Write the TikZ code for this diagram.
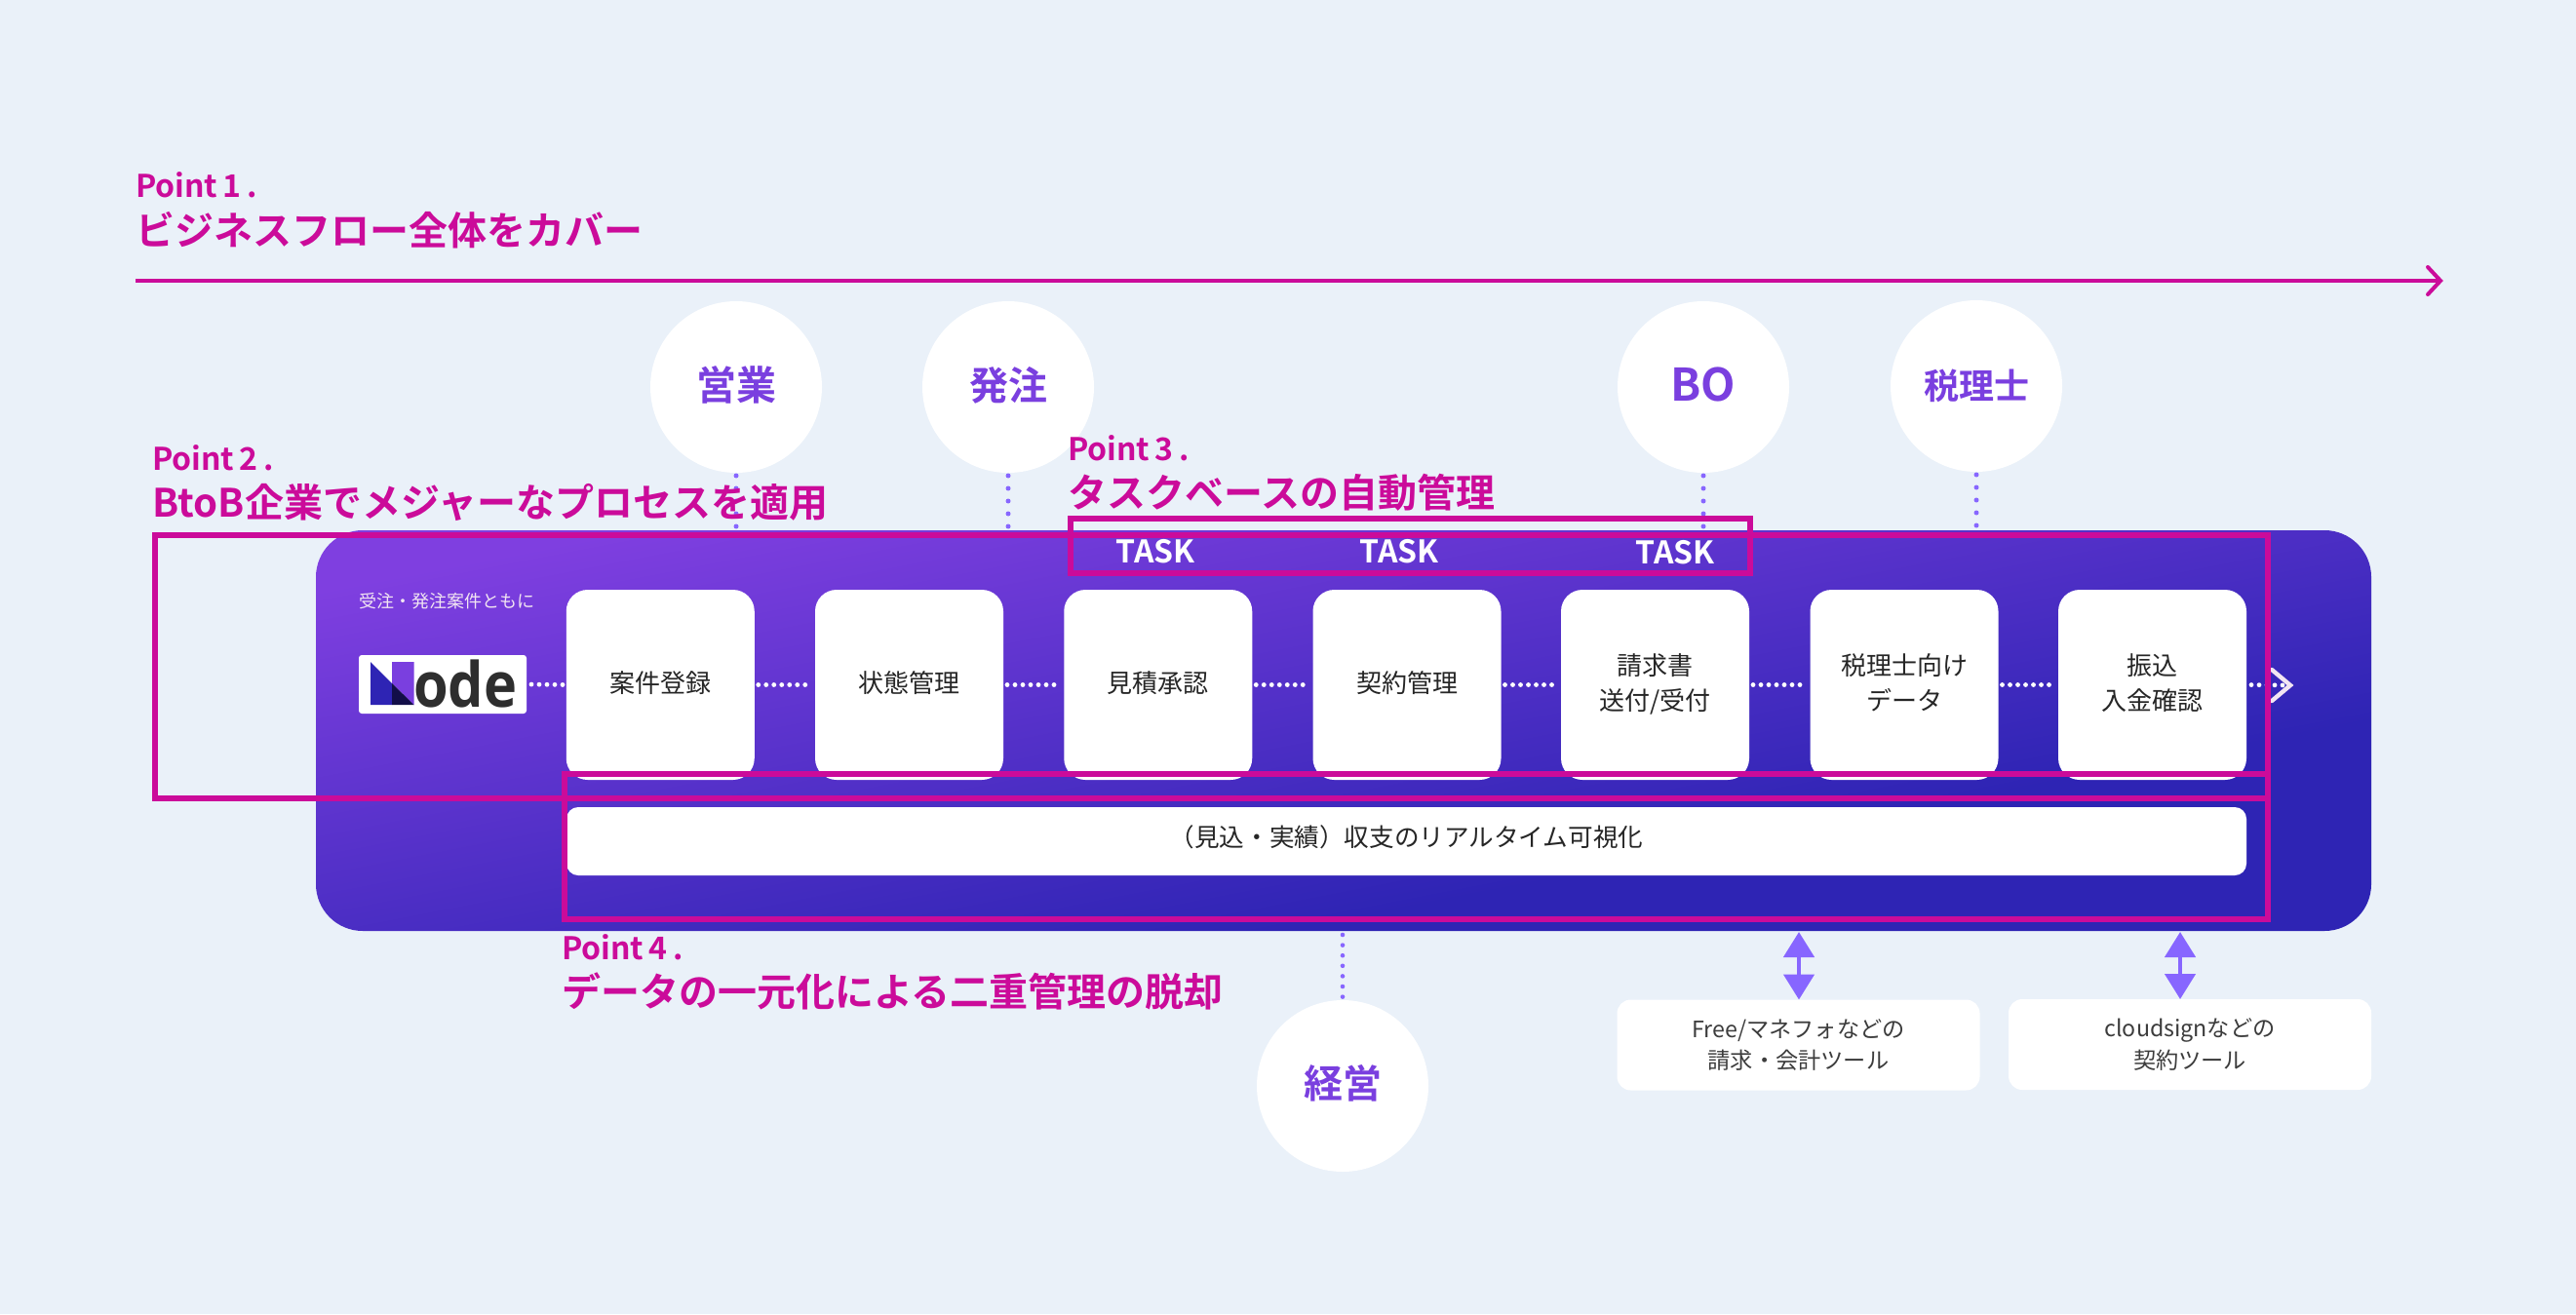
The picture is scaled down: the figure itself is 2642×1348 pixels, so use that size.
\documentclass[tikz,border=0pt]{standalone}
\usepackage{fontspec}
\usetikzlibrary{arrows.meta,calc}
\setmainfont{Noto Sans CJK JP}[BoldFont={* Bold}]
\newfontfamily\logofont{Open Sans}[BoldFont={* Bold},FakeStretch=0.9]
\newcommand{\pointtext}[1]{Point\hspace{.17em}#1\hspace{.17em}.}
\definecolor{bgc}{HTML}{EAF1F9}
\definecolor{mag}{HTML}{CB0B9A}
\definecolor{vio}{HTML}{7A3FDF}
\definecolor{dotc}{HTML}{8766FF}
\definecolor{ink}{HTML}{262626}
\definecolor{gradA}{HTML}{7F3FE0}
\definecolor{gradB}{HTML}{2E24B4}
\pgfdeclareverticalshading{panelgrad}{100bp}{color(0bp)=(gradB); color(25bp)=(gradB); color(36bp)=(gradB); color(75bp)=(gradA); color(100bp)=(gradA)}
\tikzset{
  x=0.5pt,y=-0.5pt,
  every node/.style={inner sep=0pt,outer sep=0pt},
  panelbox/.style={shading=panelgrad,shading angle=11,rounded corners=24pt,minimum width=1054pt,minimum height=205.5pt},
  flowbox/.style={fill=white,rounded corners=11pt,minimum width=96.5pt,minimum height=97.5pt,align=center,text=ink,font=\fontsize{13}{18}\selectfont,text depth=3pt},
  barbox/.style={fill=white,rounded corners=6pt,minimum width=861.5pt,minimum height=35pt,text=ink,font=\fontsize{12.8}{18}\selectfont,text height=11.3pt,text depth=5.5pt},
  toolbox/.style={fill=white,rounded corners=7pt,minimum width=186pt,minimum height=46.5pt,align=center,text=ink!90!white,font=\fontsize{11.6}{16.2}\selectfont},
  person/.style={circle,fill=white,minimum size=88pt,text=vio,font=\bfseries\fontsize{20}{24}\selectfont,text height=17.6pt,text depth=4.4pt},
  pointlab/.style={anchor=base west,text=mag,font=\bfseries\fontsize{16}{20}\selectfont},
  headlab/.style={anchor=base west,text=mag,font=\bfseries\fontsize{20}{24}\selectfont},
  tasklab/.style={text=white,font=\bfseries\fontsize{16}{20}\selectfont,text height=11.7pt,text depth=0pt},
  vdots/.style={dotc,line width=2.5pt,line cap=round,dash pattern=on 0pt off 6.5pt},
  bdots/.style={dotc,line width=2.3pt,line cap=round,dash pattern=on 0pt off 5.3pt},
  hdots/.style={white,line width=2.4pt,line cap=round,dash pattern=on 0pt off 4pt},
  markbox/.style={draw=mag,line width=2.6pt},
  linkarrow/.style={dotc,line width=2.3pt,{Triangle[length=13pt,width=15.5pt]}-{Triangle[length=13pt,width=15.5pt]}},
}
\begin{document}
\begin{tikzpicture}
\useasboundingbox (0,0) rectangle (2642,1348);
\fill[bgc] (0,0) rectangle (2642,1348);

% flow arrow
\coordinate (flowstart) at (139,288);
\coordinate (flowtip) at (2503,288);
\coordinate (flowup) at (2490,274);
\coordinate (flowdown) at (2490,302);
\draw[mag,line width=2pt] (flowstart) -- (flowtip);
\draw[mag,line width=2pt,line cap=round,line join=miter] (flowup) -- (flowtip) -- (flowdown);

% people
\node[person,font=\bfseries\fontsize{20.5}{24}\selectfont] (eigyo) at (755,397) {営業};
\node[person] (hatchu) at (1034,397) {発注};
\node[person,font=\bfseries\fontsize{23}{24}\selectfont,text depth=3.4pt] (bo) at (1747,397) {BO};
\node[person,font=\bfseries\fontsize{18}{24}\selectfont] (zeiri) at (2027,396) {税理士};
\node[person,text depth=5pt] (keiei) at (1377,1114) {経営};

% panel
\node[panelbox] (panel) at (1378,749.5) {};

\foreach \c in {eigyo,hatchu,bo,zeiri}
  \draw[vdots,shorten <=1.5pt,shorten >=1.6pt] (\c.south) -- (\c.south |- panel.north);
\draw[bdots,shorten <=2pt,shorten >=1.4pt] (panel.south -| keiei.north) -- (keiei.north);

% flow boxes
\node[flowbox] (b1) at (677.25,702.5) {案件登録};
\node[flowbox] (b2) at (932.5,702.5) {状態管理};
\node[flowbox] (b3) at (1187.75,702.5) {見積承認};
\node[flowbox] (b4) at (1443,702.5) {契約管理};
\node[flowbox] (b5) at (1697.5,702.5) {請求書\\送付/受付};
\node[flowbox] (b6) at (1953,702.5) {税理士向け\\データ};
\node[flowbox] (b7) at (2207.5,702.5) {振込\\入金確認};
\node[barbox] (bar) at (1442.5,863) {（見込・実績）収支のリアルタイム可視化};

% caption and logo
\node[anchor=west,text=white!90!violet,font=\fontsize{9}{12}\selectfont,text height=7.9pt,text depth=1.1pt] (cap) at (368,617) {受注・発注案件ともに};
\node[fill=white,rounded corners=1.5pt,minimum width=86pt,minimum height=30pt] (logo) at (454,702) {};
\fill[gradB] (380,679) -- (402,701) -- (402,723) -- (380,723) -- cycle;
\fill[vio] (402,679) -- (424.5,679) -- (424.5,723) -- (402,701) -- cycle;
\fill[black!60!gradB] (402,701) -- (424.5,723) -- (402,723) -- cycle;
\node[anchor=base west,text=black!82,font=\logofont\bfseries\fontsize{32}{36}\selectfont] (logotext) at (424,725) {ode};

% dotted links
\draw[hdots,shorten <=2.5pt,shorten >=1.5pt] (logo.east) -- (b1.west);
\draw[hdots,shorten <=2pt,shorten >=1.5pt] (b1.east) -- (b2.west);
\draw[hdots,shorten <=2pt,shorten >=1.5pt] (b2.east) -- (b3.west);
\draw[hdots,shorten <=2pt,shorten >=1.5pt] (b3.east) -- (b4.west);
\draw[hdots,shorten <=2pt,shorten >=1.5pt] (b4.east) -- (b5.west);
\draw[hdots,shorten <=2pt,shorten >=1.5pt] (b5.east) -- (b6.west);
\draw[hdots,shorten <=2pt,shorten >=1.5pt] (b6.east) -- (b7.west);
\coordinate (chevtip) at (2349,703);
\coordinate (chevup) at (2330,687);
\coordinate (chevdown) at (2330,719);
\draw[hdots,shorten <=2.5pt,shorten >=1.5pt] (b7.east) -- (chevtip);
\draw[white!90!violet,line width=2.2pt,line cap=round] (chevup) -- (chevtip) -- (chevdown);

% tools
\node[toolbox] (free) at (1844.5,1072) {Free/マネフォなどの\\請求・会計ツール};
\node[toolbox] (sign) at (2246,1071.5) {cloudsignなどの\\契約ツール};
\coordinate (freetop) at (1845,956);
\coordinate (signtop) at (2236,956);
\draw[linkarrow] (freetop) -- (freetop |- free.north);
\draw[linkarrow] (signtop) -- (signtop |- sign.north);

% task labels
\node[tasklab] (t1) at (1185,566) {TASK};
\node[tasklab] (t2) at (1435,566) {TASK};
\node[tasklab] (t3) at (1718,567) {TASK};

% point labels
\node[pointlab] (p1) at (139,203) {\pointtext{1}};
\node[headlab] (h1) at (139,251) {ビジネスフロー全体をカバー};
\node[pointlab] (p2) at (156,482) {\pointtext{2}};
\node[headlab] (h2) at (156,530) {BtoB企業でメジャーなプロセスを適用};
\node[pointlab] (p3) at (1095,472) {\pointtext{3}};
\node[headlab] (h3) at (1095,520) {タスクベースの自動管理};
\node[pointlab] (p4) at (576,984) {\pointtext{4}};
\node[headlab] (h4) at (576,1032) {データの一元化による二重管理の脱却};

% marking rectangles
\draw[markbox] (159,549) rectangle (2326,819);
\draw[markbox] (1098,532) rectangle (1795,588);
\draw[markbox] (579,794) rectangle (2326,943);
\end{tikzpicture}
\end{document}
